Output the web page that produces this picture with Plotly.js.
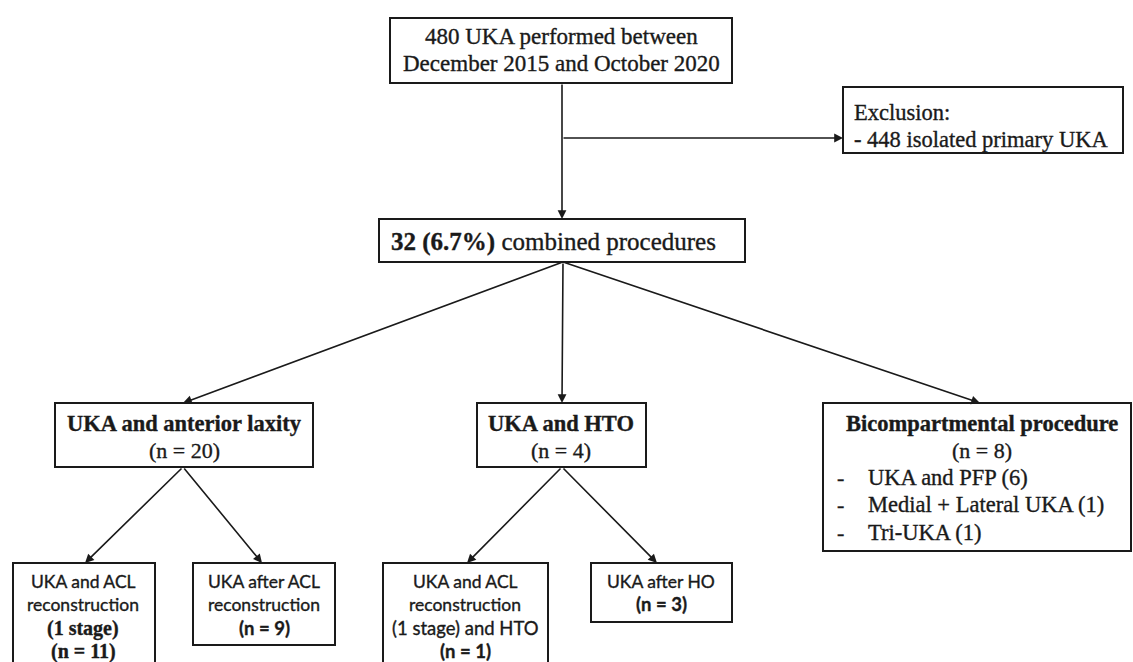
<!DOCTYPE html>
<html>
<head>
<meta charset="utf-8">
<script src="https://cdn.plot.ly/plotly-3.0.1.min.js"></script>
<style>
html,body{margin:0;padding:0;background:#fff;}
#chart{width:1133px;height:662px;}
#chart .annotation-text{stroke:#1a1a1a;stroke-width:0.35px;}
</style>
</head>
<body>
<div id="chart"></div>
<script>
const totalUKA = 480;
const periodText = "December 2015 and October 2020";
const excludedIsolated = 448;
const combinedCount = 32;
const combinedPct = "6.7%";
const groupNames = ["UKA and anterior laxity", "UKA and HTO", "Bicompartmental procedure"];
const groupN = [20, 4, 8];
const bicompItems = ["UKA and PFP", "Medial + Lateral UKA", "Tri-UKA"];
const bicompCounts = [6, 1, 1];
const subLabels = [
  ["UKA and ACL", "reconstruction", "(1 stage)"],
  ["UKA after ACL", "reconstruction"],
  ["UKA and ACL", "reconstruction", "(1 stage) and HTO"],
  ["UKA after HO"]
];
const subN = [11, 9, 1, 3];

// ---- layout geometry (pixel-like coordinates, y downward) ----
const boxes = {
  top:  [390, 18, 732, 83],
  excl: [843, 87, 1123, 153],
  comb: [379, 219, 745, 262],
  g0:   [55, 403, 313, 467],
  g1:   [477, 403, 646, 467],
  g2:   [823, 403, 1131, 551],
  s0:   [13, 563, 155, 700],
  s1:   [193, 563, 335, 645],
  s2:   [383, 563, 548, 700],
  s3:   [591, 563, 732, 622]
};
const arrows = [
  // [tailX, tailY, tipX, tipY]
  [562, 83, 562, 219],
  [562, 138, 843, 138],
  [563, 262, 183, 403],
  [563, 262, 562, 403],
  [563, 262, 980, 403],
  [183, 467, 85, 563],
  [183, 467, 262, 563],
  [562, 467, 467, 563],
  [562, 467, 657, 563]
];

const SERIF = "Liberation Serif, Times New Roman, serif";
const SANS = "Lato, Open Sans, sans-serif";
const INK = "#1a1a1a";

const shapes = [];
Object.values(boxes).forEach(b => {
  shapes.push({type: "rect", xref: "x", yref: "y", x0: b[0], y0: b[1], x1: b[2], y1: b[3],
    line: {color: INK, width: 2}, fillcolor: "rgba(0,0,0,0)", layer: "above"});
});

const annotations = [];
arrows.forEach(a => {
  annotations.push({x: a[2], y: a[3], ax: a[0], ay: a[1], xref: "x", yref: "y", axref: "x", ayref: "y",
    text: "", showarrow: true, arrowhead: 2, arrowsize: 1.1, arrowwidth: 1.6, arrowcolor: INK, standoff: 0, startstandoff: 0});
});

function txt(x, y, text, size, family, align, bold) {
  annotations.push({x: x, y: y, xref: "x", yref: "y", text: bold ? "<b>" + text + "</b>" : text,
    showarrow: false, xanchor: align || "center", yanchor: "middle",
    font: {family: family, size: size, color: INK}});
}

// top box
txt(561, 36, totalUKA + " UKA performed between", 23, SERIF);
txt(561, 63, periodText, 23, SERIF);
// exclusion
txt(852, 112, "Exclusion:", 22.5, SERIF, "left");
txt(852, 139, "- " + excludedIsolated + " isolated primary UKA", 22.5, SERIF, "left");
// combined
txt(553, 242, "<b>" + combinedCount + " (" + combinedPct + ")</b> combined procedures", 25, SERIF);
// groups
const gCenters = [184, 561, 982];
groupNames.forEach((g, i) => {
  txt(gCenters[i], 423, g, 22.5, SERIF, "center", true);
  txt(gCenters[i], 450, "(n = " + groupN[i] + ")", 22, SERIF);
});
bicompItems.forEach((it, i) => {
  const y = 477 + i * 27.5;
  txt(835, y, "-", 22, SERIF, "left");
  txt(866, y, it + " (" + bicompCounts[i] + ")", 22.5, SERIF, "left");
});
// sub boxes
const sCenters = [83, 264, 465, 661];
const lineY = [581, 604, 628, 651];
subLabels.forEach((lines, i) => {
  lines.forEach((l, j) => {
    const serifLine = (i === 0 && j === 2);
    const size = serifLine ? 20 : (i === 2 && j === 2 ? 18.5 : 17.5);
    txt(sCenters[i], lineY[j], l, size, serifLine ? SERIF : SANS, "center", serifLine);
  });
  const nLine = lines.length;
  txt(sCenters[i], lineY[nLine], "(n = " + subN[i] + ")", i === 0 ? 20 : 18.5, i === 0 ? SERIF : SANS, "center", true);
});

const layout = {
  width: 1133, height: 662,
  margin: {l: 0, r: 0, t: 0, b: 0},
  paper_bgcolor: "#fff", plot_bgcolor: "#fff",
  xaxis: {range: [0, 1133], visible: false, fixedrange: true},
  yaxis: {range: [662, 0], visible: false, fixedrange: true},
  shapes: shapes,
  annotations: annotations,
  showlegend: false
};
Plotly.newPlot("chart", [{x: [], y: [], type: "scatter", mode: "markers"}], layout, {displayModeBar: false, staticPlot: true});
</script>
</body>
</html>
